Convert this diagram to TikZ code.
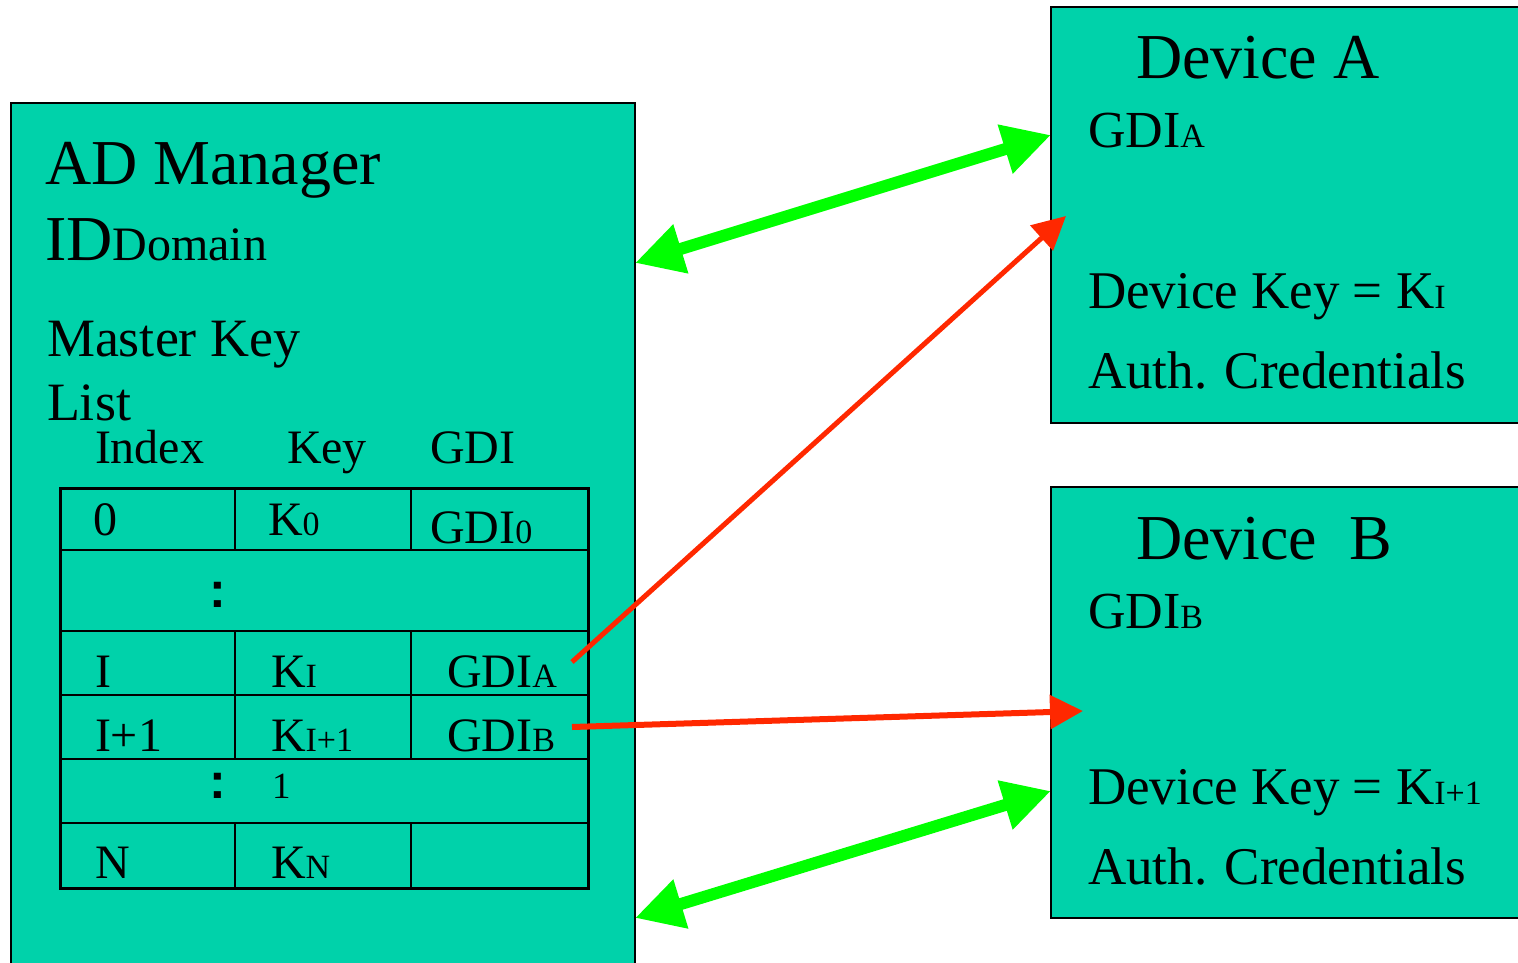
\documentclass[tikz,border=0pt]{standalone}
\usepackage{fontspec}
\setmainfont{Liberation Serif}
\newfontfamily\colonfont{Liberation Sans}
\usetikzlibrary{arrows.meta}
\definecolor{boxteal}{RGB}{0,210,170}
\definecolor{linkgreen}{RGB}{0,255,0}
\definecolor{linkred}{RGB}{255,40,0}
\newcommand\fsz[1]{\fontsize{#1}{#1}\selectfont}
\newcommand\lo[1]{{\fsz{34}#1}}

\begin{document}
\begin{tikzpicture}[x=1pt,y=-1pt,
  lbl/.style={anchor=base west, inner sep=0pt, outer sep=0pt},
  dots/.style={anchor=base, inner sep=0pt, font=\colonfont\bfseries\fsz{50}},
  panel/.style={fill=boxteal, draw=none, anchor=north west, inner sep=0pt, outer sep=0pt},
  rim/.style={black, line width=2.5pt},
  grid/.style={black, line width=2.5pt},
  duplex/.style={linkgreen, line width=12pt,
    {Triangle[length=48pt,width=48pt]}-{Triangle[length=48pt,width=48pt]}},
  lookup/.style={linkred, line width=#1, -{Triangle[length=33pt,width=33pt]}},
]
\useasboundingbox (0,0) rectangle (1518,963);

% panels
\node[panel, minimum width=624pt, minimum height=860pt] (mgr) at (11,103) {};
\node[panel, minimum width=467pt, minimum height=416pt] (devA) at (1051,7) {};
\node[panel, minimum width=467pt, minimum height=431pt] (devB) at (1051,487) {};
\draw[rim] (mgr.south west) -- (mgr.north west) -- (mgr.north east) -- (mgr.south east);
\draw[rim] (devA.north east) -- (devA.north west) -- (devA.south west) -- (devA.south east);
\draw[rim] (devB.north east) -- (devB.north west) -- (devB.south west) -- (devB.south east);

% manager text
\node[lbl, font=\fsz{64}] (mgrtitle) at (45,184) {AD Manager};
\node[lbl] (domid) at (45,260) {\fsz{64}ID{\fsz{48}Domain}};
\node[lbl, font=\fsz{54}] (mkey) at (47,356) {Master Key};
\node[lbl, font=\fsz{54}] (list) at (47,420) {List};
\node[lbl, font=\fsz{48}] (hidx) at (95,463) {Index};
\node[lbl, font=\fsz{48}] (hkey) at (287,463) {Key};
\node[lbl, font=\fsz{48}] (hgdi) at (430,463) {GDI};

% key table
\node[draw, grid, anchor=north west, inner sep=0pt, minimum width=528pt, minimum height=400pt] (tbl) at (59,487) {};
\foreach \yy in {550,631,695,759,823}
  \draw[grid] (59,\yy) -- (587,\yy);
\foreach \xx in {235,411} {
  \draw[grid] (\xx,487) -- (\xx,550);
  \draw[grid] (\xx,631) -- (\xx,759);
  \draw[grid] (\xx,823) -- (\xx,887);
}
\node[lbl, font=\fsz{48}] (c00) at (93,535) {0};
\node[lbl, font=\fsz{48}] (c01) at (268,535) {K\lo{0}};
\node[lbl, font=\fsz{48}] (c02) at (430,543) {GDI\lo{0}};
\node[dots] (c1) at (218,607) {:};
\node[lbl, font=\fsz{48}] (c20) at (95,687) {I};
\node[lbl, font=\fsz{48}] (c21) at (271,687) {K\lo{I}};
\node[lbl, font=\fsz{48}] (c22) at (447,687) {GDI\lo{A}};
\node[lbl, font=\fsz{48}] (c30) at (95,751) {I+1};
\node[lbl, font=\fsz{48}] (c31) at (271,751) {K\lo{I+1}};
\node[lbl, font=\fsz{48}] (c32) at (447,751) {GDI\lo{B}};
\node[dots] (c4) at (218,798) {:};
\node[lbl, font=\fsz{37}] (c4b) at (272,798) {1};
\node[lbl, font=\fsz{48}] (c50) at (95,878) {N};
\node[lbl, font=\fsz{48}] (c51) at (271,878) {K\lo{N}};

% device A text
\node[lbl, font=\fsz{64}] (atitle) at (1136,79) {Device A};
\node[lbl, font=\fsz{52}] (agdi) at (1088,148) {GDI\lo{A}};
\node[lbl, font=\fsz{53}] (akey) at (1088,308) {Device Key = K\lo{I}};
\node[lbl, font=\fsz{53}] (aauth) at (1088,388) {Auth. Credentials};

% device B text
\node[lbl, font=\fsz{64}] (btitle) at (1136,559) {Device\ \ B};
\node[lbl, font=\fsz{52}] (bgdi) at (1088,628) {GDI\lo{B}};
\node[lbl, font=\fsz{53}] (bkey) at (1088,804) {Device Key = K\lo{I+1}};
\node[lbl, font=\fsz{53}] (bauth) at (1088,884) {Auth. Credentials};

% links
\coordinate (rA) at (572,662);
\coordinate (rB) at (572,727);
\draw[duplex] ([yshift=-160pt]mgr.north east) -- ([yshift=-128pt]devA.north west);
\draw[duplex] ([yshift=-815pt]mgr.north east) -- ([yshift=-304pt]devB.north west);
\draw[lookup=5pt] (rA) -- ([xshift=15pt,yshift=-209pt]devA.north west);
\draw[lookup=6pt] (rB) -- ([xshift=32pt,yshift=-224pt]devB.north west);
\end{tikzpicture}
\end{document}
